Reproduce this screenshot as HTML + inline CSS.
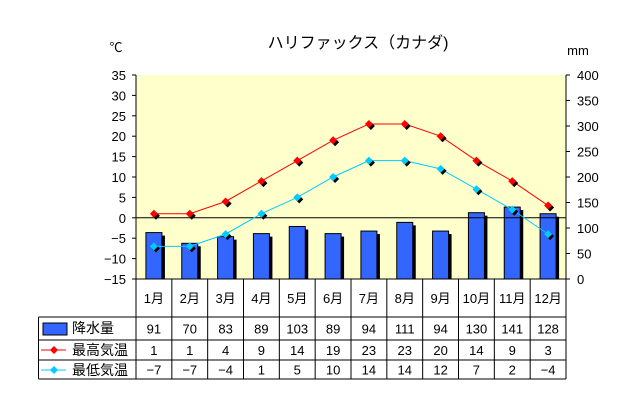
<!DOCTYPE html>
<html><head><meta charset="utf-8"><style>
body{margin:0;background:#fff;}
svg text{font-family:"Liberation Sans","Noto Sans CJK JP",sans-serif;fill:#000;}
</style></head><body>
<svg id="c" width="641" height="400" viewBox="0 0 641 400" xmlns="http://www.w3.org/2000/svg">
<text x="358" y="48" font-size="16" text-anchor="middle">ハリファックス（カナダ)</text>
<text x="116" y="52" font-size="13" text-anchor="middle">℃</text>
<text x="578" y="55" font-size="13" text-anchor="middle">mm</text>
<rect x="136" y="75" width="430" height="204" fill="#ffffcc"/>
<g id="g"></g>
</svg>
<script>
const months=["1月","2月","3月","4月","5月","6月","7月","8月","9月","10月","11月","12月"];
const precip=[91,70,83,89,103,89,94,111,94,130,141,128];
const tmax=[1,1,4,9,14,19,23,23,20,14,9,3];
const tmin=[-7,-7,-4,1,5,10,14,14,12,7,2,-4];
const leftTicks=[35,30,25,20,15,10,5,0,-5,-10,-15];
const rightTicks=[400,350,300,250,200,150,100,50,0];
const NS="http://www.w3.org/2000/svg";
const g=document.getElementById('g');
const X0=136,X1=566,T=75,B=279,cw=(X1-X0)/12;
const yT=v=>T+(35-v)*(B-T)/50;
const yP=v=>B-v*(B-T)/400;
const xc=i=>X0+cw*(i+0.5);
function mk(tag,a,txt){const e=document.createElementNS(NS,tag);for(const k in a)e.setAttribute(k,a[k]);if(txt!==undefined)e.textContent=txt;g.appendChild(e);return e;}
// bars
precip.forEach((v,i)=>{
 const x=xc(i)-8,y=yP(v);
 let s=mk('rect',{x:x+3,y:y+3,width:16,height:B-y-3,fill:'#000'});
 
 
 let r=mk('rect',{x:x,y:y,width:16,height:B-y,fill:'#3366ff',stroke:'#000','stroke-width':1});
 
 
});
let zl=mk('line',{x1:X0,x2:X1,y1:yT(0),y2:yT(0),stroke:'#000'});


function series(arr,col,name){
 let p=mk('polyline',{points:arr.map((v,i)=>xc(i)+','+yT(v)).join(' '),fill:'none',stroke:col,'stroke-width':1});
 
 
 arr.forEach((v,i)=>{
  const x=xc(i),y=yT(v);
  let s=mk('path',{d:`M${x+2},${y-2}l4,4l-4,4l-4,-4z`,fill:'#000'});
  
  
  let d=mk('path',{d:`M${x},${y-4}l4,4l-4,4l-4,-4z`,fill:col});
  
  
 });
}
series(tmax,'#ff0000','tmax');
series(tmin,'#00ccff','tmin');
// axes
let la=mk('line',{x1:X0,x2:X0,y1:T,y2:B,stroke:'#000'});

let ra=mk('line',{x1:X1,x2:X1,y1:T,y2:B,stroke:'#000'});

leftTicks.forEach(v=>{
 mk('line',{x1:X0-4,x2:X0,y1:yT(v),y2:yT(v),stroke:'#000'});
 let t=mk('text',{x:X0-10,y:yT(v)+5,'font-size':13,'text-anchor':'end'},v<0?'−'+(-v):v);
 
 
});
rightTicks.forEach(v=>{
 mk('line',{x1:X1,x2:X1+4,y1:yP(v),y2:yP(v),stroke:'#000'});
 let t=mk('text',{x:X1+11,y:yP(v)+5,'font-size':13},v);
 
 
});
// table
const rows=[317,340,360,379];
const L=38.5;
mk('line',{x1:X0,x2:X1,y1:B,y2:B,stroke:'#000'});
[rows[0],rows[1],rows[2],rows[3]].forEach(y=>mk('line',{x1:(y==rows[0]?L:L),x2:X1,y1:y,y2:y,stroke:'#000'}));
mk('line',{x1:L,x2:L,y1:rows[0],y2:rows[3],stroke:'#000'});
for(let i=0;i<=12;i++){const x=X0+cw*i;mk('line',{x1:x,x2:x,y1:B,y2:rows[3],stroke:'#000'});}
months.forEach((m,i)=>{
 let t=mk('text',{x:xc(i),y:303,'font-size':13,'text-anchor':'middle'},m);
 
 
});
const tbl=[precip,tmax,tmin];
tbl.forEach((arr,r)=>{
 arr.forEach((v,i)=>{
  let t=mk('text',{x:xc(i),y:rows[r]+(rows[r+1]-rows[r])/2+5,'font-size':13,'text-anchor':'middle'},v<0?'−'+(-v):v);
  
  
 });
});
// legend cells
let lb=mk('rect',{x:43,y:323,width:24,height:12,fill:'#3366ff',stroke:'#000'});

mk('line',{x1:41,x2:66,y1:350,y2:350,stroke:'#ff0000'});
mk('path',{d:'M54,346l4,4l-4,4l-4,-4z',fill:'#ff0000'});
mk('line',{x1:41,x2:66,y1:370,y2:370,stroke:'#00ccff'});
mk('path',{d:'M54,366l4,4l-4,4l-4,-4z',fill:'#00ccff'});
[["降水量",333],["最高気温",355],["最低気温",375]].forEach(([s,y],k)=>{
 let t=mk('text',{x:72,y:y,'font-size':14},s);
 
 
});
</script>
</body></html>
